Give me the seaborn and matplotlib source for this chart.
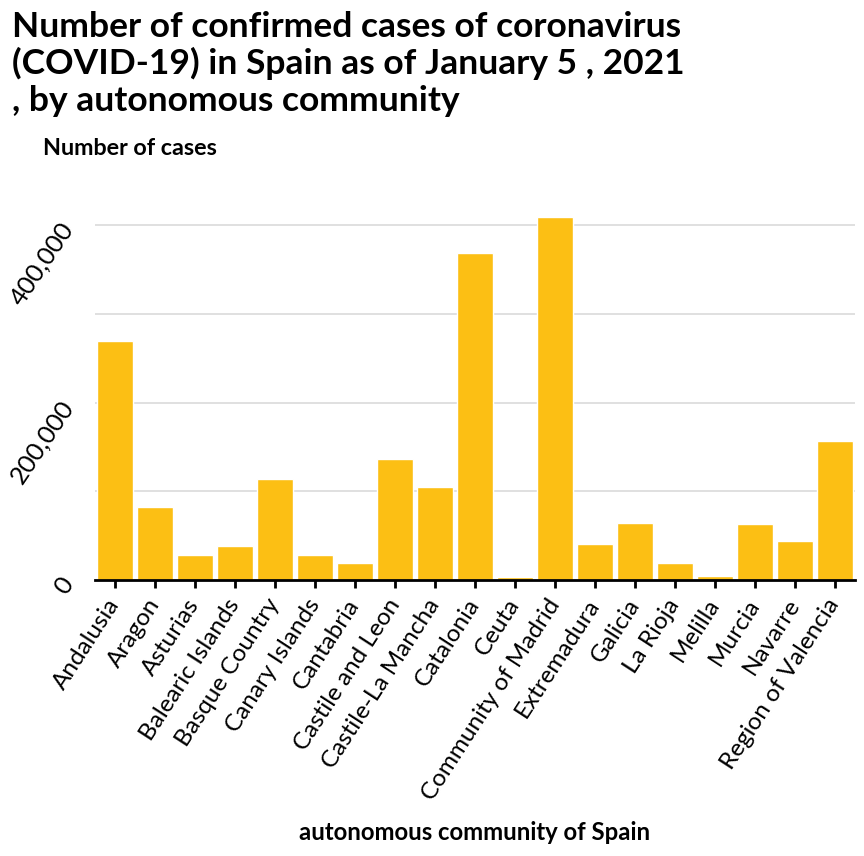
import matplotlib
matplotlib.use("Agg")
import matplotlib.pyplot as plt
import seaborn as sns
import pandas as pd
from matplotlib.ticker import FuncFormatter

communities = [
    "Andalusia", "Aragon", "Asturias", "Balearic Islands", "Basque Country",
    "Canary Islands", "Cantabria", "Castile and Leon", "Castile-La Mancha",
    "Catalonia", "Ceuta", "Community of Madrid", "Extremadura", "Galicia",
    "La Rioja", "Melilla", "Murcia", "Navarre", "Region of Valencia",
]
cases = [
    269800, 81800, 27800, 38300, 113300,
    28100, 18800, 135800, 104300,
    368500, 3400, 408600, 40500, 63800,
    19100, 4900, 63000, 43500, 156500,
]
title_lines = [
    "Number of confirmed cases of coronavirus",
    "(COVID-19) in Spain as of January 5 , 2021",
    ", by autonomous community",
]

BAR_COLOR = "#fcbf14"
TEXT_COLOR = "black"
W, H = 864, 856

sns.set_theme(style="white")
plt.rcParams["font.family"] = ["Lato", "DejaVu Sans"]
plt.rcParams["text.color"] = TEXT_COLOR
plt.rcParams["xtick.labelcolor"] = TEXT_COLOR
plt.rcParams["ytick.labelcolor"] = TEXT_COLOR

df = pd.DataFrame({"community": communities, "cases": cases})

fig = plt.figure(figsize=(W / 100, H / 100), dpi=100)
renderer = fig.canvas.get_renderer()


def fit_size(text, width_px, weight="normal"):
    # font size in pt so that text is width_px wide
    probe = fig.text(0, 0, text, fontsize=10, fontweight=weight)
    w = probe.get_window_extent(renderer).width
    probe.remove()
    return 10 * width_px / w


ax = fig.add_axes([95 / W, 1 - 580 / H, 760 / W, 390.5 / H])

sns.barplot(data=df, x="community", y="cases", color=BAR_COLOR,
            width=0.9, saturation=1, ax=ax, zorder=3)

ax.set_xlim(-0.5, len(communities) - 0.5)
ax.set_ylim(0, 440000)
ax.set_yticks([0, 100000, 200000, 300000, 400000])
ax.yaxis.set_major_formatter(
    FuncFormatter(lambda v, _: f"{int(v):,}" if v % 200000 == 0 else ""))
ax.grid(axis="y", color="#dddddd", linewidth=1.3, zorder=0)
ax.set_axisbelow(True)

for side in ("left", "right", "top"):
    ax.spines[side].set_visible(False)
ax.spines["bottom"].set_color("black")
ax.spines["bottom"].set_linewidth(2)
ax.spines["bottom"].set_zorder(4)

tick_size = fit_size("Community of Madrid", 236)
ytick_size = fit_size("400,000", 94)
ax.tick_params(axis="x", length=6, width=2, color="black", bottom=True,
               labelsize=tick_size, labelcolor=TEXT_COLOR, pad=9)
ax.tick_params(axis="y", length=0, labelsize=ytick_size,
               labelcolor=TEXT_COLOR, pad=19)
plt.setp(ax.get_xticklabels(), rotation=57, ha="right", va="center",
         rotation_mode="anchor")
plt.setp(ax.get_yticklabels(), rotation=56, ha="right", va="center",
         rotation_mode="anchor")

ax.set_xlabel("")
ax.set_ylabel("")

title_size = fit_size(title_lines[0], 671, "bold")
for line, base in zip(title_lines, [37, 74, 111]):
    fig.text(12 / W, 1 - base / H, line, ha="left", va="baseline",
             fontsize=title_size, fontweight="bold")

fig.text(43 / W, 1 - 155 / H, "Number of cases", ha="left", va="baseline",
         fontsize=fit_size("Number of cases", 175, "bold"), fontweight="bold")
fig.text(475 / W, 1 - 840 / H, "autonomous community of Spain",
         ha="center", va="baseline",
         fontsize=fit_size("autonomous community of Spain", 351, "bold"),
         fontweight="bold")

fig.savefig("out.png", dpi=100)
